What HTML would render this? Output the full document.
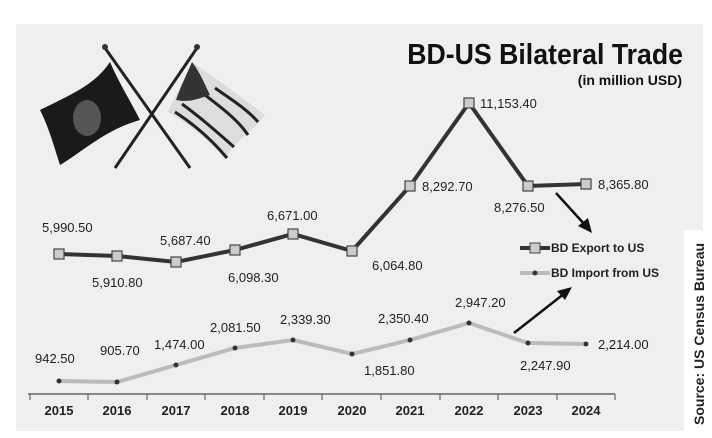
<!DOCTYPE html>
<html><head><meta charset="utf-8"><style>
body{margin:0;background:#fff;}
svg text{font-family:"Liberation Sans",sans-serif;}
</style></head><body>
<svg width="712" height="433" viewBox="0 0 712 433" xmlns="http://www.w3.org/2000/svg">
<rect x="0" y="0" width="712" height="433" fill="#fff"/>
<rect x="16" y="24" width="687" height="407" fill="#efefef"/>
<rect x="684" y="230" width="28" height="203" fill="#fff"/>
<!-- flags -->
<line x1="105" y1="48" x2="190" y2="168" stroke="#222" stroke-width="3"/>
<line x1="197" y1="48" x2="115" y2="168" stroke="#222" stroke-width="3"/>
<circle cx="105" cy="47" r="3" fill="#333"/><circle cx="197" cy="47" r="3" fill="#333"/>
<path d="M110,62 C95,85 70,95 40,110 C50,130 55,150 60,165 C85,150 105,130 140,120 C130,100 120,85 110,62Z" fill="#1a1a1a"/>
<ellipse cx="87" cy="118" rx="14" ry="18" fill="#555"/>
<path d="M192,62 C185,80 175,95 168,112 C190,125 210,140 225,160 C235,140 255,130 265,115 C245,100 225,85 192,62Z" fill="#ddd"/>
<g stroke="#222" stroke-width="3" fill="none">
<path d="M175,112 C195,125 212,140 227,158"/><path d="M182,104 C200,117 217,132 234,147"/><path d="M205,95 C222,108 238,120 248,135"/><path d="M215,88 C232,100 248,110 258,122"/>
</g>
<path d="M192,62 C186,76 180,88 176,100 C190,103 200,98 210,95 C205,85 200,72 192,62Z" fill="#333"/>
<!-- title -->
<text x="683" y="64" text-anchor="end" font-size="29" font-weight="bold" fill="#111" transform="scale(0.92,1)" transform-origin="683 64">BD-US Bilateral Trade</text>
<text x="682" y="85" text-anchor="end" font-size="14" font-weight="bold" fill="#111">(in million USD)</text>
<!-- axis -->
<line x1="28" y1="394" x2="615" y2="394" stroke="#666" stroke-width="1.5"/>
<g stroke="#666" stroke-width="1.2">
<line x1="30" y1="394" x2="30" y2="400"/><line x1="88" y1="394" x2="88" y2="400"/><line x1="147" y1="394" x2="147" y2="400"/><line x1="205" y1="394" x2="205" y2="400"/><line x1="264" y1="394" x2="264" y2="400"/><line x1="322" y1="394" x2="322" y2="400"/><line x1="381" y1="394" x2="381" y2="400"/><line x1="440" y1="394" x2="440" y2="400"/><line x1="498" y1="394" x2="498" y2="400"/><line x1="557" y1="394" x2="557" y2="400"/><line x1="615" y1="394" x2="615" y2="400"/>
</g>
<g font-size="13" font-weight="bold" fill="#222" text-anchor="middle">
<text x="59" y="415">2015</text><text x="117" y="415">2016</text><text x="176" y="415">2017</text><text x="235" y="415">2018</text><text x="293" y="415">2019</text><text x="352" y="415">2020</text><text x="410" y="415">2021</text><text x="469" y="415">2022</text><text x="528" y="415">2023</text><text x="586" y="415">2024</text>
</g>
<!-- export line -->
<polyline points="59,254 117,256 176,262 235,250 293,234 352,251 410,186 469,103 528,186 586,184" fill="none" stroke="#333" stroke-width="4"/>
<g fill="#ccc" stroke="#444" stroke-width="1.2">
<rect x="54" y="249" width="10" height="10"/><rect x="112" y="251" width="10" height="10"/><rect x="171" y="257" width="10" height="10"/><rect x="230" y="245" width="10" height="10"/><rect x="288" y="229" width="10" height="10"/><rect x="347" y="246" width="10" height="10"/><rect x="405" y="181" width="10" height="10"/><rect x="464" y="98" width="10" height="10"/><rect x="523" y="181" width="10" height="10"/><rect x="581" y="179" width="10" height="10"/>
</g>
<!-- import line -->
<polyline points="59,381 117,382 176,365 235,348 293,340 352,354 410,340 469,323 528,343 586,344" fill="none" stroke="#bbb" stroke-width="4"/>
<g fill="#333">
<circle cx="59" cy="381" r="2.5"/><circle cx="117" cy="382" r="2.5"/><circle cx="176" cy="365" r="2.5"/><circle cx="235" cy="348" r="2.5"/><circle cx="293" cy="340" r="2.5"/><circle cx="352" cy="354" r="2.5"/><circle cx="410" cy="340" r="2.5"/><circle cx="469" cy="323" r="2.5"/><circle cx="528" cy="343" r="2.5"/><circle cx="586" cy="344" r="2.5"/>
</g>
<!-- labels -->
<g font-size="13" fill="#222">
<text x="42" y="232">5,990.50</text><text x="92" y="287">5,910.80</text><text x="160" y="245">5,687.40</text><text x="228" y="282">6,098.30</text><text x="267" y="220">6,671.00</text><text x="372" y="270">6,064.80</text><text x="422" y="191">8,292.70</text><text x="480" y="108">11,153.40</text><text x="494" y="212">8,276.50</text><text x="598" y="189">8,365.80</text>
<text x="35" y="363">942.50</text><text x="100" y="355">905.70</text><text x="154" y="349">1,474.00</text><text x="210" y="332">2,081.50</text><text x="280" y="324">2,339.30</text><text x="364" y="375">1,851.80</text><text x="378" y="323">2,350.40</text><text x="455" y="307">2,947.20</text><text x="520" y="370">2,247.90</text><text x="598" y="349">2,214.00</text>
</g>
<!-- legend -->
<line x1="520" y1="248" x2="550" y2="248" stroke="#333" stroke-width="4"/>
<rect x="530" y="243" width="10" height="10" fill="#ccc" stroke="#444"/>
<text x="551" y="252" font-size="12" font-weight="bold" fill="#222">BD  Export to US</text>
<line x1="520" y1="273" x2="550" y2="273" stroke="#bbb" stroke-width="4"/>
<circle cx="535" cy="273" r="2.5" fill="#333"/>
<text x="551" y="277" font-size="12" font-weight="bold" fill="#222">BD Import  from US</text>
<!-- arrows -->
<line x1="556" y1="193" x2="586" y2="226" stroke="#111" stroke-width="2.5"/>
<polygon points="592,233 578,226 588,218" fill="#111"/>
<line x1="514" y1="333" x2="565" y2="293" stroke="#111" stroke-width="2.5"/>
<polygon points="572,287 565,300 557,291" fill="#111"/>
<!-- source -->
<text transform="translate(704,425) rotate(-90)" font-size="14" font-weight="bold" fill="#222">Source: US Census Bureau</text>
</svg>
</body></html>
